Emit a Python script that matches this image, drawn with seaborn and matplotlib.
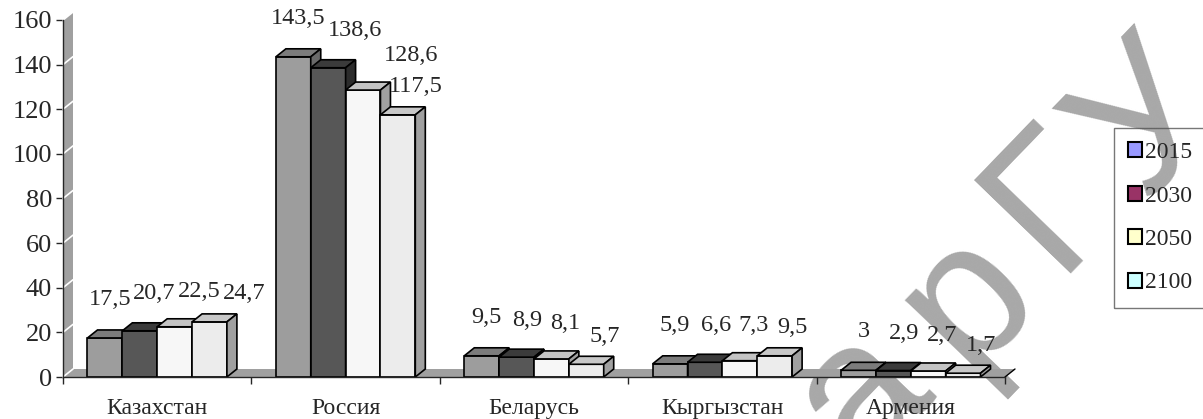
import numpy as np
import pandas as pd
import matplotlib
matplotlib.use("Agg")
import matplotlib.pyplot as plt
from matplotlib.patches import Polygon, Patch, Rectangle
import seaborn as sns

# data
countries = ["Казахстан", "Россия", "Беларусь", "Кыргызстан", "Армения"]
years = ["2015", "2030", "2050", "2100"]
v2015 = [17.5, 143.5, 9.5, 5.9, 3.0]
v2030 = [20.7, 138.6, 8.9, 6.6, 2.9]
v2050 = [22.5, 128.6, 8.1, 7.3, 2.7]
v2100 = [24.7, 117.5, 5.7, 9.5, 1.7]
yticks = [0, 20, 40, 60, 80, 100, 120, 140, 160]

# bar faces (grayscale) and the legend swatches (excel palette)
front = ["#9d9d9d", "#575757", "#f7f7f7", "#ececec"]
top = ["#7c7c7c", "#3b3b3b", "#c4c4c4", "#c8c8c8"]
side = ["#6a6a6a", "#2c2c2c", "#a0a0a0", "#a0a0a0"]
legend_cols = ["#9999ff", "#993366", "#ffffcc", "#ccffff"]

df = pd.DataFrame({
    "country": countries * 4,
    "year": sum([[y] * 5 for y in years], []),
    "value": v2015 + v2030 + v2050 + v2100,
})

sns.set_style("white")
plt.rcParams["font.family"] = ["Liberation Serif", "DejaVu Serif"]

fig = plt.figure(figsize=(12.03, 4.19), dpi=100)
ax = fig.add_axes([63 / 1203, 1 - 377 / 419, (1005 - 63) / 1203, (377 - 20) / 419])
ax.patch.set_alpha(0)
ax.set_zorder(1)

sns.barplot(data=df, x="country", y="value", hue="year", order=countries,
            hue_order=years, palette=dict(zip(years, front)), width=0.74,
            gap=0, saturation=1, edgecolor="black", linewidth=1.2,
            legend=False, ax=ax)
bars = sorted([p for p in ax.patches if isinstance(p, Rectangle)], key=lambda p: p.get_x())

ax.set_xlim(-0.5, 4.5)
ax.set_ylim(0, 160)
px = 1 / 188.4  # one pixel in x data units
dx = 10 * px
dy = 160 * 8 / 357

# 3d back wall and floor
x0, x1 = -0.5, 4.5
ax.add_patch(Polygon([(x0, 0), (x0 + dx, dy), (x0 + dx, 160 + dy), (x0, 160)],
                     closed=True, fc="#a0a0a0", ec="none", zorder=0.5, clip_on=False))
for t in yticks:
    ax.plot([x0, x0 + dx], [t, t + dy], color="white", lw=1.2, zorder=0.6, clip_on=False)
ax.add_patch(Polygon([(x0, 0), (x0 + dx, dy), (x1 + dx, dy), (x1, 0)],
                     closed=True, fc="#a0a0a0", ec="none", zorder=0.5, clip_on=False))
ax.plot([x1, x1 + dx], [0, dy], color="black", lw=1, zorder=0.6, clip_on=False)

# give every bar a top and a side face, drawn left to right
offs = [17.2, 16.5, 15.7, 12.6]
shift = [0, 6, 9, 13]
labels = []
for k, p in enumerate(bars):
    x, w, h = p.get_x(), p.get_width(), p.get_height()
    i = front.index(matplotlib.colors.to_hex(p.get_facecolor()))
    z = 2 + k * 0.01
    p.set_zorder(z)
    ax.add_patch(Polygon([(x, h), (x + dx, h + dy), (x + w + dx, h + dy), (x + w, h)],
                         closed=True, fc=top[i], ec="black", lw=1.2, zorder=z, clip_on=False))
    ax.add_patch(Polygon([(x + w, 0), (x + w + dx, dy), (x + w + dx, h + dy), (x + w, h)],
                         closed=True, fc=side[i], ec="black", lw=1.2, zorder=z, clip_on=False))
    lbl = f"{h:g}".replace(".", ",")
    t = ax.text(x + w / 2 + dx / 2 + shift[i] * px, h + offs[i], lbl, ha="center",
                va="center", fontsize=17.5, zorder=5)
    labels.append(t)

# push a label right when it runs into the one before it
fig.canvas.draw()
r = fig.canvas.get_renderer()
for a, b in zip(labels[:-1], labels[1:]):
    ba, bb = a.get_window_extent(r), b.get_window_extent(r)
    if bb.x0 < ba.x1 and bb.y0 < ba.y1 + 10 and bb.y1 > ba.y0 - 10:
        bx, by = b.get_position()
        b.set_position((bx + (ba.x1 - bb.x0 + 2) * px, by))

# axes styling
for s in ["top", "right"]:
    ax.spines[s].set_visible(False)
ax.spines["left"].set_linewidth(1)
ax.spines["bottom"].set_linewidth(1)
ax.spines["left"].set_zorder(1)
ax.set_yticks(yticks)
ax.tick_params(axis="y", length=5, width=1, direction="out", labelsize=19, left=True, pad=3)
ax.set_xticks(range(len(countries)))
ax.set_xticklabels(countries)
ax.tick_params(axis="x", which="major", length=0, labelsize=17, pad=15)
ax.set_xticks(np.arange(-0.5, 5, 1), minor=True)
ax.tick_params(axis="x", which="minor", length=5, width=1, direction="out", bottom=True)
ax.set_xlabel("")
ax.set_ylabel("")

handles = [Patch(fc=c, ec="black", lw=1.5) for c in legend_cols]
leg = fig.legend(handles, years, loc="upper left", bbox_to_anchor=(1114 / 1203, 1 - 128 / 419),
                 frameon=True, fancybox=False, edgecolor="#555555", facecolor="none",
                 framealpha=None, fontsize=17, handlelength=0.6, handleheight=0.6,
                 handletextpad=0.1, labelspacing=0.95, borderpad=0.6, borderaxespad=0)
leg.set_zorder(3)

# watermark letters along a diagonal (first letter falls outside the picture)
wm_letters = ["а", "р", "Г", "У"]
wm_xy = [(862, 395), (968, 298), (1055, 200), (1150, 122)]
for ch, (wx, wy) in zip(wm_letters, wm_xy):
    fig.text(wx / 1203, 1 - wy / 419, ch, rotation=46, fontsize=140, color="#a8a8a8",
             ha="center", va="center", family="Liberation Sans", zorder=0)

fig.savefig("out.png", dpi=100)
